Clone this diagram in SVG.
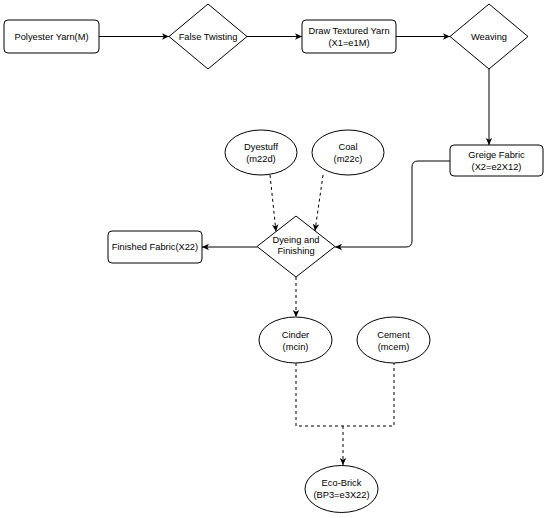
<svg xmlns="http://www.w3.org/2000/svg" width="550" height="518" viewBox="0 0 550 518">
<style>
.s{fill:#fff;stroke:#000;stroke-width:1}
.t{font-family:"Liberation Sans",Arial,sans-serif;font-size:9.3px;fill:#000;text-anchor:middle}
.c{fill:none;stroke:#000;stroke-width:1}
.d{stroke-dasharray:3 3}
</style>
<defs>
<marker id="a" markerUnits="userSpaceOnUse" markerWidth="8" markerHeight="8" viewBox="0 0 8 8" refX="7" refY="4" orient="auto">
<path d="M0,0.8 L7,4 L0,7.2 L1.8,4 Z" fill="#000"/>
</marker>
</defs>
<g id="connectors">
<path class="c" d="M99,36.5 H169" marker-end="url(#a)"/>
<path class="c" d="M247,36.5 H302" marker-end="url(#a)"/>
<path class="c" d="M396,36.5 H450" marker-end="url(#a)"/>
<path class="c" d="M489,69 V145" marker-end="url(#a)"/>
<path class="c" d="M450,161 H418 Q412,161 412,167 V241 Q412,247 406,247 H335" marker-end="url(#a)"/>
<path class="c d" d="M270,175 L276,231.5" marker-end="url(#a)"/>
<path class="c d" d="M323,175 L315,231" marker-end="url(#a)"/>
<path class="c" d="M257,247 H202" marker-end="url(#a)"/>
<path class="c d" d="M296,277 V317" marker-end="url(#a)"/>
<path class="c d" d="M296,363 V426 H394 V363"/>
<path class="c d" d="M343,426 V465" marker-end="url(#a)"/>
</g>
<g id="polyester">
<rect class="s" x="4" y="20" width="95" height="33" rx="4"/>
<text class="t" x="51.5" y="39.8">Polyester Yarn(M)</text>
</g>
<g id="false-twisting">
<polygon class="s" points="208,4 247,36.5 208,69 169,36.5"/>
<text class="t" x="208" y="39.8">False Twisting</text>
</g>
<g id="draw-textured">
<rect class="s" x="302" y="20" width="94" height="33" rx="4"/>
<text class="t" x="349" y="34">Draw Textured Yarn</text>
<text class="t" x="349" y="45.5">(X1=e1M)</text>
</g>
<g id="weaving">
<polygon class="s" points="489,4 528,36.5 489,69 450,36.5"/>
<text class="t" x="489" y="39.8">Weaving</text>
</g>
<g id="greige">
<rect class="s" x="450" y="145" width="93" height="31" rx="4"/>
<text class="t" x="496.5" y="158.3">Greige Fabric</text>
<text class="t" x="496.5" y="169.6">(X2=e2X12)</text>
</g>
<g id="dyestuff">
<ellipse class="s" cx="261" cy="152.5" rx="36" ry="22.5"/>
<text class="t" x="261" y="150.3">Dyestuff</text>
<text class="t" x="261" y="161.6">(m22d)</text>
</g>
<g id="coal">
<ellipse class="s" cx="348" cy="152.5" rx="36" ry="22.5"/>
<text class="t" x="348" y="150.3">Coal</text>
<text class="t" x="348" y="161.6">(m22c)</text>
</g>
<g id="dyeing">
<polygon class="s" points="296,216 335,246.5 296,277 257,246.5"/>
<text class="t" x="296" y="242.5">Dyeing and</text>
<text class="t" x="296" y="254.2">Finishing</text>
</g>
<g id="finished">
<rect class="s" x="108" y="231" width="94" height="32" rx="4"/>
<text class="t" x="155" y="250.3">Finished Fabric(X22)</text>
</g>
<g id="cinder">
<ellipse class="s" cx="295.5" cy="340" rx="36.5" ry="23"/>
<text class="t" x="295.5" y="338.3">Cinder</text>
<text class="t" x="295.5" y="349.6">(mcin)</text>
</g>
<g id="cement">
<ellipse class="s" cx="393.5" cy="340" rx="36.5" ry="23"/>
<text class="t" x="393.5" y="338.3">Cement</text>
<text class="t" x="393.5" y="349.6">(mcem)</text>
</g>
<g id="eco-brick">
<ellipse class="s" cx="341.5" cy="489" rx="36.5" ry="23.5"/>
<text class="t" x="341.5" y="486.3">Eco-Brick</text>
<text class="t" x="341.5" y="497.6">(BP3=e3X22)</text>
</g>
</svg>
